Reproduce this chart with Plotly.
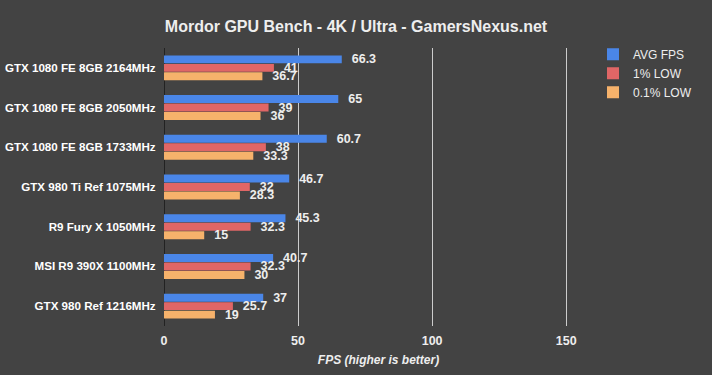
import plotly.graph_objects as go

categories = ["GTX 1080 FE 8GB 2164MHz", "GTX 1080 FE 8GB 2050MHz", "GTX 1080 FE 8GB 1733MHz",
              "GTX 980 Ti Ref 1075MHz", "R9 Fury X 1050MHz", "MSI R9 390X 1100MHz", "GTX 980 Ref 1216MHz"]
avg_fps = [66.3, 65, 60.7, 46.7, 45.3, 40.7, 37]
low_1 = [41, 39, 38, 32, 32.3, 32.3, 25.7]
low_01 = [36.7, 36, 33.3, 28.3, 15, 30, 19]
series_names = ["AVG FPS", "1% LOW", "0.1% LOW"]
colors = ["#4a86e8", "#e06666", "#f6b26b"]
x_ticks = [0, 50, 100, 150]

fig = go.Figure()
for name, vals, col in zip(series_names, [avg_fps, low_1, low_01], colors):
    fig.add_trace(go.Bar(
        y=categories, x=vals, name=name, orientation="h",
        marker=dict(color=col, line=dict(width=0)),
        text=[f"  <b>{v:g}</b>" for v in vals], textposition="outside",
        constraintext="none",
        textfont=dict(family="Liberation Sans", size=12.5, color="#eeeeee"),
        cliponaxis=False,
    ))

fig.update_layout(
    width=712, height=375,
    paper_bgcolor="#434343", plot_bgcolor="#434343",
    barmode="group", bargap=0.36, bargroupgap=0.06,
    margin=dict(l=164, r=119, t=48, b=49, autoexpand=False),
    title=dict(text="<b>Mordor GPU Bench - 4K / Ultra - GamersNexus.net</b>",
               x=0.5, xanchor="center", y=0.93, yanchor="middle",
               font=dict(family="Liberation Sans", size=16, color="#eeeeee")),
    font=dict(family="Liberation Sans", color="#eeeeee"),
    legend=dict(x=1.0, xanchor="left", y=1.03, yanchor="top",
                font=dict(size=12, color="#eeeeee"), bgcolor="rgba(0,0,0,0)",
                tracegroupgap=0),
    showlegend=True,
)
fig.update_xaxes(range=[0, 160], tickvals=x_ticks, ticktext=[f"<b>{t}</b>" for t in x_ticks],
                 showgrid=True, gridcolor="#cccccc", gridwidth=1, zeroline=True,
                 zerolinecolor="#222222", zerolinewidth=1, automargin=False,
                 ticks="outside", ticklen=3, tickcolor="rgba(0,0,0,0)",
                 tickfont=dict(size=12.5, color="#eeeeee"),
                 title=dict(text="<b><i>FPS (higher is better)</i></b>",
                            font=dict(size=12, color="#eeeeee"), standoff=8))
fig.update_yaxes(autorange="reversed", showgrid=False, automargin=False,
                 tickvals=categories, ticktext=[f"<b>{c}</b>" for c in categories],
                 tickfont=dict(size=11.6, color="#ffffff"),
                 ticks="outside", ticklen=5, tickcolor="rgba(0,0,0,0)")
fig.write_html("out.html", config={"displayModeBar": False},
               post_script="document.body.style.margin='0';")
